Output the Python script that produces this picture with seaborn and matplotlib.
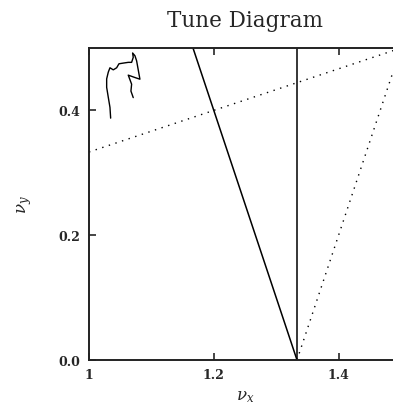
import numpy as np
import pandas as pd
import matplotlib
matplotlib.use("Agg")
import matplotlib.pyplot as plt
import seaborn as sns

# tune trace (nu_x, nu_y)
trace_nux = [1.0347, 1.0336, 1.0309, 1.0283, 1.0283, 1.0309, 1.0336, 1.0389, 1.0443,
             1.0480, 1.0549, 1.0629, 1.0683, 1.0709, 1.0699, 1.0736, 1.0763, 1.0816,
             1.0736, 1.0629, 1.0683, 1.0672, 1.0709]
trace_nuy = [0.3876, 0.4048, 0.4210, 0.4370, 0.4505, 0.4613, 0.4683, 0.4650, 0.4683,
             0.4747, 0.4758, 0.4770, 0.4770, 0.4850, 0.4920, 0.4876, 0.4795, 0.4500,
             0.4527, 0.4565, 0.4420, 0.4310, 0.4205]

# resonance lines: endpoints (nu_x, nu_y)
vert_x = [4 / 3, 4 / 3]
vert_y = [0.0, 0.5]
diag_x = [4 / 3, 7 / 6]          # 3 nu_x + nu_y = 4
diag_y = [0.0, 0.5]
dot1_x = [1.0, 1.5]              # nu_x - 3 nu_y = 0
dot1_y = [1 / 3, 0.5]
dot2_x = [4 / 3, 1.5]            # 3 nu_x - nu_y = 4
dot2_y = [0.0, 0.5]

xticks = [1.0, 1.2, 1.4]
xticklabels = ["1", "1.2", "1.4"]
yticks = [0.0, 0.2, 0.4]
yticklabels = ["0.0", "0.2", "0.4"]

sns.set_style("ticks")
plt.rcParams['font.family'] = ['DejaVu Serif']
plt.rcParams['mathtext.fontset'] = 'dejavuserif'

fig = plt.figure(figsize=(3.93, 4.10), dpi=100)
ax = fig.add_axes([89 / 393, 49 / 410, 312 / 393, 312 / 410])

kw = dict(ax=ax, color="black", sort=False, estimator=None, errorbar=None)
sns.lineplot(x=vert_x, y=vert_y, lw=1.1, **kw)
sns.lineplot(x=diag_x, y=diag_y, lw=1.1, **kw)
sns.lineplot(x=dot1_x, y=dot1_y, lw=1.0, ls=(0, (1, 4)), **kw)
sns.lineplot(x=dot2_x, y=dot2_y, lw=1.0, ls=(0, (1, 4)), **kw)
sns.lineplot(x=trace_nux, y=trace_nuy, lw=1.0, **kw)

ax.set_xlim(1.0, 1.5)
ax.set_ylim(0.0, 0.5)
ax.set_xticks(xticks)
ax.set_xticklabels(xticklabels, fontsize=9, fontweight="bold")
ax.set_yticks(yticks)
ax.set_yticklabels(yticklabels, fontsize=9, fontweight="bold")
ax.tick_params(direction="in", length=5, width=1.2, top=True, right=True, pad=6)
for s in ax.spines.values():
    s.set_linewidth(1.4)
    s.set_color("#222222")

ax.set_xlabel(r"$\nu_x$", fontsize=12, labelpad=4)
ax.set_ylabel(r"$\nu_y$", fontsize=12, labelpad=18)
ax.set_title("Tune Diagram", fontsize=15.5, pad=16)

fig.savefig("out.png", dpi=100)
